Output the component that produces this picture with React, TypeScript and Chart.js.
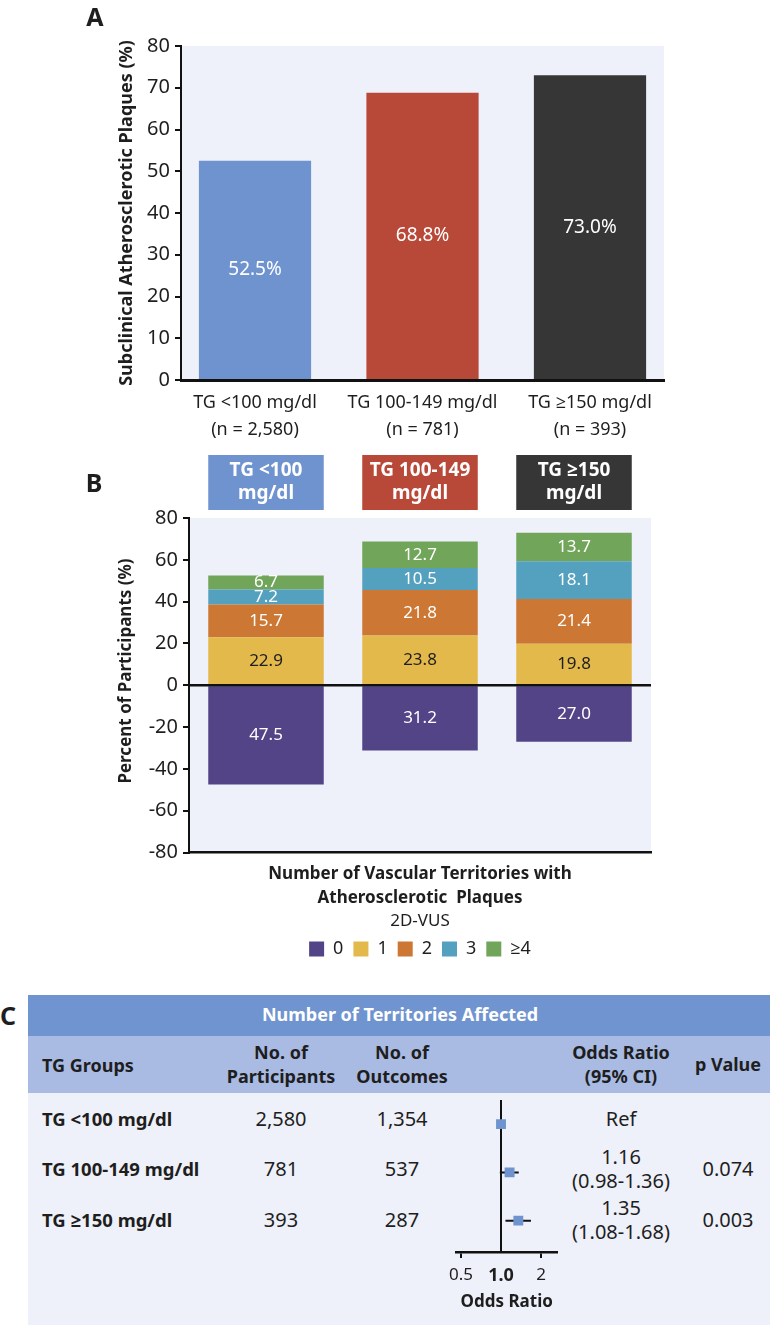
import React, { useEffect, useRef } from 'react';
import { Chart, registerables } from 'chart.js';

Chart.register(...registerables);

const FONT = "'Noto Sans', 'Open Sans', 'DejaVu Sans', sans-serif";
const INK = '#1e1e1e';
const PLOT_BG = '#eef1f9';

// ---------- Panel A ----------
const groupNamesA = [
  ['TG <100 mg/dl', '(n = 2,580)'],
  ['TG 100-149 mg/dl', '(n = 781)'],
  ['TG ≥150 mg/dl', '(n = 393)'],
];
const plaquePct = [52.5, 68.8, 73.0];
const groupColors = ['#6f93cf', '#b84837', '#363636'];
const yTicksA = [0, 10, 20, 30, 40, 50, 60, 70, 80];

// ---------- Panel B ----------
const groupNamesB = [
  ['TG <100', 'mg/dl'],
  ['TG 100-149', 'mg/dl'],
  ['TG ≥150', 'mg/dl'],
];
const territoryLabels = ['0', '1', '2', '3', '≥4'];
const territoryColors = ['#524487', '#e3b94b', '#cc7733', '#54a0bf', '#70a55a'];
const territoryTextColors = ['#ffffff', '#1e1e1e', '#ffffff', '#ffffff', '#ffffff'];
const terr0 = [47.5, 31.2, 27.0]; // drawn below zero
const terr1 = [22.9, 23.8, 19.8];
const terr2 = [15.7, 21.8, 21.4];
const terr3 = [7.2, 10.5, 18.1];
const terr4 = [6.7, 12.7, 13.7];
const yTicksB = [-80, -60, -40, -20, 0, 20, 40, 60, 80];

// ---------- Panel C ----------
const tgGroups = ['TG <100 mg/dl', 'TG 100-149 mg/dl', 'TG ≥150 mg/dl'];
const nParticipants = ['2,580', '781', '393'];
const nOutcomes = ['1,354', '537', '287'];
const oddsRatio = [1.0, 1.16, 1.35];
const ciLow: (number | null)[] = [null, 0.98, 1.08];
const ciHigh: (number | null)[] = [null, 1.36, 1.68];
const orText = ['Ref', '1.16\n(0.98-1.36)', '1.35\n(1.08-1.68)'];
const pValues = ['', '0.074', '0.003'];
const orTicks = [0.5, 1, 2];

Chart.defaults.font.family = FONT;
Chart.defaults.color = INK;

const plotBg = {
  id: 'plotBg',
  beforeDraw(chart: any, _a: any, opts: any) {
    if (!opts || !opts.color) return;
    const { ctx, chartArea: a } = chart;
    ctx.save();
    ctx.fillStyle = opts.color;
    ctx.fillRect(a.left, a.top, a.right - a.left, a.bottom - a.top);
    ctx.restore();
  },
};

const sideTitle = {
  id: 'sideTitle',
  afterDraw(chart: any, _a: any, opts: any) {
    if (!opts || !opts.text) return;
    const { ctx } = chart;
    ctx.save();
    ctx.translate(opts.x, opts.y);
    ctx.rotate(-Math.PI / 2);
    ctx.font = `bold ${opts.size}px ${FONT}`;
    ctx.fillStyle = INK;
    ctx.textAlign = 'center';
    ctx.textBaseline = 'middle';
    ctx.fillText(opts.text, 0, 0);
    ctx.restore();
  },
};

const barLabelsA = {
  id: 'barLabelsA',
  afterDatasetsDraw(chart: any) {
    const { ctx } = chart;
    const meta = chart.getDatasetMeta(0);
    ctx.save();
    ctx.font = `19px ${FONT}`;
    ctx.fillStyle = '#ffffff';
    ctx.textAlign = 'center';
    ctx.textBaseline = 'middle';
    meta.data.forEach((el: any, i: number) => {
      ctx.fillText(`${plaquePct[i].toFixed(1)}%`, el.x, (el.y + el.base) / 2);
    });
    ctx.restore();
  },
};

const stackLabelsB = {
  id: 'stackLabelsB',
  afterDatasetsDraw(chart: any) {
    const { ctx, scales, chartArea } = chart;
    ctx.save();
    const y0 = scales.y.getPixelForValue(0);
    ctx.strokeStyle = '#111';
    ctx.lineWidth = 2.5;
    ctx.beginPath();
    ctx.moveTo(chartArea.left, y0);
    ctx.lineTo(chartArea.right, y0);
    ctx.stroke();
    ctx.font = `17px ${FONT}`;
    ctx.textAlign = 'center';
    ctx.textBaseline = 'middle';
    chart.data.datasets.forEach((ds: any, di: number) => {
      const meta = chart.getDatasetMeta(di);
      meta.data.forEach((el: any, i: number) => {
        const v = Math.abs(ds.data[i]);
        ctx.fillStyle = territoryTextColors[di];
        ctx.fillText(v.toFixed(1), el.x, (el.y + el.base) / 2);
      });
    });
    const meta = chart.getDatasetMeta(1);
    meta.data.forEach((el: any, i: number) => {
      const w = el.width;
      ctx.fillStyle = groupColors[i];
      ctx.fillRect(el.x - w / 2, 15, w, 55);
      ctx.fillStyle = '#ffffff';
      ctx.font = `bold 19px ${FONT}`;
      ctx.fillText(groupNamesB[i][0], el.x, 31);
      ctx.fillText(groupNamesB[i][1], el.x, 54);
    });
    ctx.restore();
  },
};

const refLine = {
  id: 'refLine',
  beforeDatasetsDraw(chart: any) {
    const { ctx, scales, chartArea } = chart;
    const x = scales.x.getPixelForValue(1);
    ctx.save();
    ctx.strokeStyle = '#111';
    ctx.lineWidth = 2;
    ctx.beginPath();
    ctx.moveTo(x, chartArea.top);
    ctx.lineTo(x, chartArea.bottom);
    ctx.stroke();
    ctx.restore();
  },
};

function Txt(props: any) {
  const { x, y, children, align = 'center', bold = false, size = 18, color = INK, lh = 24 } = props;
  const tx = align === 'center' ? '-50%' : align === 'right' ? '-100%' : '0';
  return (
    <div
      style={{
        position: 'absolute',
        left: x,
        top: y,
        transform: `translate(${tx}, -50%)`,
        fontWeight: bold ? 700 : 400,
        fontSize: size,
        lineHeight: `${lh}px`,
        whiteSpace: 'pre',
        textAlign: align,
        color,
      }}
    >
      {children}
    </div>
  );
}

export default function App() {
  const refA = useRef<HTMLCanvasElement>(null);
  const refB = useRef<HTMLCanvasElement>(null);
  const refF = useRef<HTMLCanvasElement>(null);

  useEffect(() => {
    const chartA = new Chart(refA.current as HTMLCanvasElement, {
      type: 'bar',
      data: {
        datasets: [
          {
            data: plaquePct.map((v, i) => ({ x: i, y: v })) as any,
            backgroundColor: groupColors,
            barPercentage: 0.67,
            categoryPercentage: 1,
          },
        ],
      },
      options: {
        animation: false,
        responsive: false,
        devicePixelRatio: 1,
        layout: { padding: { left: 0, top: 46, right: 106, bottom: 0 } },
        plugins: {
          legend: { display: false },
          tooltip: { enabled: false },
          plotBg: { color: PLOT_BG },
        } as any,
        scales: {
          x: {
            type: 'linear',
            offset: false,
            min: -0.4418,
            max: 2.4418,
            z: 1,
            afterBuildTicks: (s: any) => {
              s.ticks = groupNamesA.map((_, i) => ({ value: i }));
            },
            ticks: {
              callback: (v: any) => groupNamesA[v as number],
              font: { size: 18, lineHeight: 1.5 },
              color: INK,
              padding: 1.5,
              maxRotation: 0,
              autoSkip: false,
            },
            grid: { display: false },
            border: { display: true, color: '#111', width: 3 },
            afterFit: (s: any) => {
              s.height = 60;
            },
          } as any,
          y: {
            min: 0,
            max: 80,
            afterBuildTicks: (s: any) => {
              s.ticks = yTicksA.map((v) => ({ value: v }));
            },
            ticks: { font: { size: 20 }, color: INK, padding: 5 },
            grid: { drawOnChartArea: false, drawTicks: true, tickLength: 6, color: '#111', lineWidth: 2 },
            border: { color: '#111', width: 2 },
            title: {
              display: true,
              text: 'Subclinical Atherosclerotic Plaques (%)',
              font: { size: 18, weight: 'bold' },
              color: INK,
              padding: { top: 116.2, bottom: 0 },
            },
            afterFit: (s: any) => {
              s.width = 181;
            },
          } as any,
        },
      },
      plugins: [plotBg, barLabelsA],
    });

    const seriesB = [terr0.map((v) => -v), terr1, terr2, terr3, terr4];
    const chartB = new Chart(refB.current as HTMLCanvasElement, {
      type: 'bar',
      data: {
        labels: groupNamesB.map((g) => g.join(' ')),
        datasets: territoryLabels.map((lab, k) => ({
          label: lab,
          data: seriesB[k],
          backgroundColor: territoryColors[k],
          stack: 's',
          barPercentage: 0.75,
          categoryPercentage: 1,
        })),
      },
      options: {
        animation: false,
        responsive: false,
        devicePixelRatio: 1,
        layout: { padding: { left: 0, top: 78, right: 119, bottom: 0 } },
        plugins: {
          legend: {
            position: 'bottom',
            fullSize: false,
            labels: { boxWidth: 15, boxHeight: 15, padding: 10, font: { size: 18 }, color: INK },
            title: { display: true, text: '2D-VUS', font: { size: 17, lineHeight: 1 }, padding: 0, color: INK },
          },
          tooltip: { enabled: false },
          plotBg: { color: PLOT_BG },
          sideTitle: { text: 'Percent of Participants (%)', x: 126, y: 231, size: 17 },
        } as any,
        scales: {
          x: {
            stacked: true,
            ticks: { display: false },
            grid: { display: false },
            border: { display: true, color: '#111', width: 2.5 },
            title: {
              display: true,
              text: ['Number of Vascular Territories with', 'Atherosclerotic  Plaques'],
              font: { size: 17, weight: 'bold', lineHeight: 24 / 17 },
              color: INK,
              padding: { top: 0, bottom: 2.5 },
            },
            afterFit: (s: any) => {
              s.height = 60.5;
            },
          } as any,
          y: {
            stacked: true,
            min: -80,
            max: 80,
            afterBuildTicks: (s: any) => {
              s.ticks = yTicksB.map((v) => ({ value: v }));
            },
            ticks: { font: { size: 20 }, color: INK, padding: 5 },
            grid: { drawOnChartArea: false, drawTicks: true, tickLength: 6, color: '#111', lineWidth: 2 },
            border: { color: '#111', width: 2 },
            afterFit: (s: any) => {
              s.width = 189;
            },
          } as any,
        },
      },
      plugins: [plotBg, stackLabelsB, sideTitle],
    });

    const ciSets: any[] = [];
    ciLow.forEach((lo, i) => {
      const hi = ciHigh[i];
      if (lo == null || hi == null) return;
      ciSets.push({
        data: [
          { x: lo, y: i + 1 },
          { x: hi, y: i + 1 },
        ],
        borderColor: '#111',
        borderWidth: 2,
        pointRadius: 0,
        order: 1,
      });
    });
    const chartF = new Chart(refF.current as HTMLCanvasElement, {
      type: 'line',
      data: {
        datasets: [
          {
            data: oddsRatio.map((v, i) => ({ x: v, y: i + 1 })),
            showLine: false,
            pointStyle: 'rect',
            pointRadius: 7,
            pointBackgroundColor: '#6f93cf',
            pointBorderWidth: 0,
            order: 0,
          } as any,
          ...ciSets,
        ],
      },
      options: {
        animation: false,
        responsive: false,
        devicePixelRatio: 1,
        layout: { padding: { left: 36.7, right: 23.3, top: 0, bottom: 0 } },
        plugins: { legend: { display: false }, tooltip: { enabled: false } },
        scales: {
          x: {
            type: 'logarithmic',
            min: 0.464,
            max: 2.625,
            afterBuildTicks: (s: any) => {
              s.ticks = orTicks.map((v) => ({ value: v }));
            },
            ticks: {
              callback: (v: any) => (v === 1 ? '1.0' : String(v)),
              font: (c: any) =>
                c.tick && c.tick.value === 1 ? { size: 18, weight: 'bold' } : { size: 17 },
              color: INK,
              padding: 7,
              maxRotation: 0,
              autoSkip: false,
            },
            grid: {
              drawOnChartArea: false,
              drawTicks: true,
              tickLength: 6,
              lineWidth: 2,
              color: (c: any) => (c.tick && c.tick.value === 1 ? 'rgba(0,0,0,0)' : '#111'),
            },
            border: { color: '#111', width: 2.5 },
            title: {
              display: true,
              text: 'Odds Ratio',
              font: { size: 17, weight: 'bold' },
              color: INK,
              padding: { top: 0, bottom: 12.8 },
            },
            afterFit: (s: any) => {
              s.height = 73;
            },
          } as any,
          y: { type: 'linear', reverse: true, min: 0.5, max: 3.65, display: false },
        },
      },
      plugins: [refLine],
    });

    return () => {
      chartA.destroy();
      chartB.destroy();
      chartF.destroy();
    };
  }, []);

  const rowY = [1119, 1169, 1220];

  return (
    <div
      style={{
        position: 'absolute',
        left: 0,
        top: 0,
        width: 770,
        height: 1325,
        fontFamily: FONT,
        color: INK,
        overflow: 'hidden',
        background: '#ffffff',
      }}
    >
      <canvas ref={refA} width={770} height={440} style={{ position: 'absolute', left: 0, top: 0, width: 770, height: 440 }} />
      <canvas ref={refB} width={770} height={528} style={{ position: 'absolute', left: 0, top: 440, width: 770, height: 528 }} />

      <Txt x={95} y={16} bold size={25}>A</Txt>
      <Txt x={94} y={482} bold size={25}>B</Txt>
      <Txt x={8} y={1015} bold size={25}>C</Txt>

      <div style={{ position: 'absolute', left: 28, top: 995, width: 742, height: 41, background: '#7094cf' }} />
      <div style={{ position: 'absolute', left: 28, top: 1036, width: 742, height: 57, background: '#a9bbe3' }} />
      <div style={{ position: 'absolute', left: 28, top: 1093, width: 742, height: 232, background: PLOT_BG }} />

      <Txt x={400} y={1014} bold size={18} color="#ffffff">Number of Territories Affected</Txt>
      <Txt x={42} y={1065} bold size={18} align="left">TG Groups</Txt>
      <Txt x={281} y={1064} bold size={18}>{'No. of\nParticipants'}</Txt>
      <Txt x={402} y={1064} bold size={18}>{'No. of\nOutcomes'}</Txt>
      <Txt x={621} y={1064} bold size={18}>{'Odds Ratio\n(95% CI)'}</Txt>
      <Txt x={728} y={1064} bold size={18}>p Value</Txt>

      {tgGroups.map((g, i) => (
        <React.Fragment key={g}>
          <Txt x={42} y={rowY[i]} bold size={18.5} align="left">{g}</Txt>
          <Txt x={281} y={rowY[i]} size={20}>{nParticipants[i]}</Txt>
          <Txt x={402} y={rowY[i]} size={20}>{nOutcomes[i]}</Txt>
          <Txt x={621} y={rowY[i]} size={20}>{orText[i]}</Txt>
          <Txt x={728} y={rowY[i]} size={20}>{pValues[i]}</Txt>
        </React.Fragment>
      ))}

      <canvas ref={refF} width={160} height={232} style={{ position: 'absolute', left: 420, top: 1093, width: 160, height: 232 }} />
    </div>
  );
}
